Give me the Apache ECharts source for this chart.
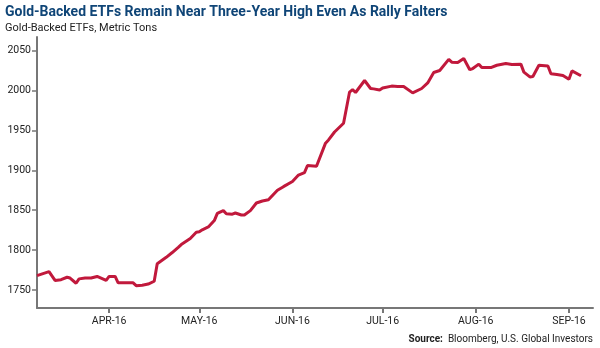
<!DOCTYPE html>
<html><head><meta charset="utf-8">
<script src="https://cdn.jsdelivr.net/npm/echarts@6/dist/echarts.min.js"></script>
<style>html,body{margin:0;padding:0;background:#fff}#c{width:600px;height:348px}</style>
</head><body><div id="c"></div>
<script>
const dates = ["2016-03-08","2016-03-12","2016-03-14","2016-03-16","2016-03-18","2016-03-19","2016-03-21","2016-03-22","2016-03-24","2016-03-26","2016-03-28","2016-03-31",
"2016-04-01","2016-04-03","2016-04-04","2016-04-09","2016-04-10","2016-04-12","2016-04-14","2016-04-16","2016-04-17","2016-04-20","2016-04-22","2016-04-24","2016-04-25","2016-04-28","2016-04-30",
"2016-05-01","2016-05-02","2016-05-04","2016-05-06","2016-05-07","2016-05-09","2016-05-10","2016-05-12","2016-05-13","2016-05-15","2016-05-16","2016-05-18","2016-05-20","2016-05-22","2016-05-24","2016-05-27","2016-05-29",
"2016-06-01","2016-06-03","2016-06-05","2016-06-06","2016-06-09","2016-06-12","2016-06-13","2016-06-15","2016-06-18","2016-06-20","2016-06-21","2016-06-22","2016-06-25","2016-06-27","2016-06-28","2016-06-30",
"2016-07-01","2016-07-04","2016-07-06","2016-07-08","2016-07-11","2016-07-14","2016-07-16","2016-07-18","2016-07-20","2016-07-23","2016-07-24","2016-07-26","2016-07-28","2016-07-30","2016-07-31",
"2016-08-02","2016-08-03","2016-08-06","2016-08-08","2016-08-11","2016-08-13","2016-08-16","2016-08-17","2016-08-19","2016-08-20","2016-08-22","2016-08-25","2016-08-26","2016-08-28","2016-08-30",
"2016-09-01","2016-09-02","2016-09-05"];
const tons = [1768,1773,1762,1763,1766,1765,1758.5,1764,1765,1765,1767,1762,
1767,1767,1759,1759,1755.5,1756,1757.5,1761,1783,1791,1797,1803.5,1807,1814.5,1822.5,
1823,1825.5,1829,1837,1846,1849.5,1845.5,1845,1846.5,1844,1844,1849.5,1859,1861.5,1863,1875,1879.5,
1886,1894,1897,1906,1905,1934,1938,1948,1959,1998,2001,1997.5,2012.5,2002.5,2002,2000.5,
2003,2005.5,2005,2005,1997,2002.5,2009.5,2022.5,2025,2039,2035.5,2035,2040,2026,2027.5,
2033,2028.7,2028.7,2031.6,2033.7,2032.5,2033,2023,2017,2017.5,2031.6,2030.7,2021,2020,2018.7,
2014,2024.5,2018.4];
const yTicks = [1750,1800,1850,1900,1950,2000,2050];
const monthTicks = ["2016-04-01","2016-05-01","2016-06-01","2016-07-01","2016-08-01","2016-09-01"];
const monthNames = ["JAN","FEB","MAR","APR","MAY","JUN","JUL","AUG","SEP","OCT","NOV","DEC"];
const xMin = "2016-03-08", xMax = "2016-09-09";

function ts(s){const p=s.split("-");return Date.UTC(+p[0],+p[1]-1,+p[2]);}
const tickTs = monthTicks.map(ts);
const FONT = 'Roboto,"Liberation Sans",sans-serif';

const chart = echarts.init(document.getElementById('c'), null, {renderer:'canvas'});
chart.setOption({
  animation:false,
  backgroundColor:'#fff',
  title:[
    {text:'Gold-Backed ETFs Remain Near Three-Year High Even As Rally Falters', left:0, top:0,
     textStyle:{fontFamily:FONT,fontSize:14,fontWeight:'bold',color:'#0f4577'}},
    {text:'Gold-Backed ETFs, Metric Tons', left:0, top:18,
     textStyle:{fontFamily:FONT,fontSize:11,fontWeight:'normal',color:'#222'}},
    {text:'{b|Source:} {n|Bloomberg, U.S. Global Investors}', right:2, top:325,
     textStyle:{rich:{b:{fontFamily:FONT,fontSize:10,fontWeight:'bold',color:'#222'},
                      n:{fontFamily:FONT,fontSize:10,fontWeight:'normal',color:'#222'}}}}
  ],
  grid:{left:37,right:7,top:37,bottom:40,containLabel:false},
  xAxis:{type:'value', min:ts(xMin), max:ts(xMax),
    axisLine:{lineStyle:{color:'#777',width:2}},
    axisTick:{show:true,customValues:tickTs,length:5,lineStyle:{color:'#777',width:2}},
    axisLabel:{customValues:tickTs,color:'#222',fontFamily:FONT,fontSize:10.5,margin:8,
      formatter:function(v){const d=new Date(v);return monthNames[d.getUTCMonth()]+'-'+String(d.getUTCFullYear()).slice(2);}},
    splitLine:{show:false}},
  yAxis:{type:'value', min:1727.5, max:2067,
    axisLine:{show:true,lineStyle:{color:'#777',width:2}},
    axisTick:{show:true,customValues:yTicks,length:5,lineStyle:{color:'#777',width:1.5}},
    axisLabel:{customValues:yTicks,color:'#222',fontFamily:FONT,fontSize:10.5,margin:6,
      formatter:function(v){return String(v);}},
    splitLine:{show:false}},
  series:[{type:'line', data:dates.map((d,i)=>[ts(d),tons[i]]), showSymbol:false,
    lineStyle:{color:'#c1193c',width:3}, itemStyle:{color:'#c1193c'}}]
});
</script></body></html>
